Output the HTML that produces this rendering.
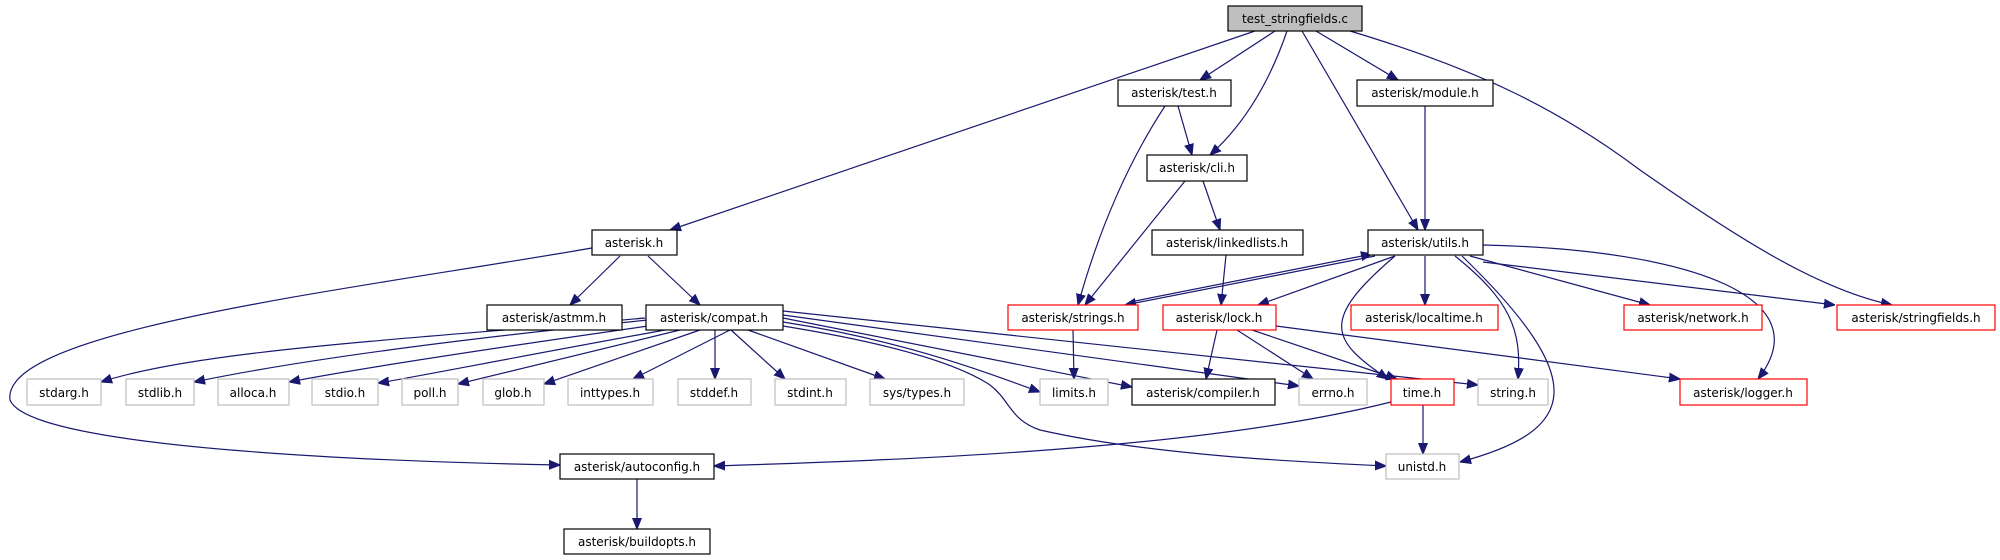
<!DOCTYPE html>
<html><head><meta charset="utf-8"><style>
html,body{margin:0;padding:0;background:#fff;}
svg{display:block;}
text{font-family:"DejaVu Sans","Liberation Sans",sans-serif;font-size:12px;fill:#000;}
.e{fill:none;stroke:#191970;stroke-width:1.2;}
</style></head><body>
<svg width="2000" height="560" viewBox="0 0 2000 560" xmlns="http://www.w3.org/2000/svg">
<defs><marker id="a" viewBox="0 0 10 10" refX="10" refY="5" markerWidth="11" markerHeight="11" markerUnits="userSpaceOnUse" orient="auto"><path d="M0,1 L10,5 L0,9 z" fill="#191970" stroke="#191970"/></marker></defs>
<g marker-end="url(#a)">
<path class="e" d="M1255,31 L670,230"/>
<path class="e" d="M1275,31 L1200,80"/>
<path class="e" d="M1287,31 Q1260,110 1210,155"/>
<path class="e" d="M1302,31 L1418,230"/>
<path class="e" d="M1316,31 L1398,80"/>
<path class="e" d="M1350,31 C1480,70 1560,110 1640,170 C1740,240 1820,290 1892,305"/>
<path class="e" d="M1178,106 L1192,155"/>
<path class="e" d="M1165,106 Q1110,190 1078,305"/>
<path class="e" d="M1425,106 L1425,230"/>
<path class="e" d="M1203,181 L1220,230"/>
<path class="e" d="M1185,181 L1085,305"/>
<path class="e" d="M1226,255 L1221,305"/>
<path class="e" d="M1375,256 L1125,305"/>
<path class="e" d="M1130,302 L1372,254"/>
<path class="e" d="M1395,256 L1258,305"/>
<path class="e" d="M1425,256 L1425,305"/>
<path class="e" d="M1470,256 L1650,305"/>
<path class="e" d="M1483,262 L1835,305"/>
<path class="e" d="M1395,256 C1320,320 1330,340 1388,379"/>
<path class="e" d="M1455,256 C1510,300 1522,330 1518,379"/>
<path class="e" d="M1462,256 C1590,380 1580,430 1460,462"/>
<path class="e" d="M1483,245 C1700,250 1820,300 1758,379"/>
<path class="e" d="M1073,330 L1074,379"/>
<path class="e" d="M1217,330 L1206,379"/>
<path class="e" d="M1237,330 L1313,379"/>
<path class="e" d="M1252,330 L1397,379"/>
<path class="e" d="M1276,326 L1680,379"/>
<path class="e" d="M1391,402 C1200,450 900,460 714,466"/>
<path class="e" d="M1423,405 L1423,454"/>
<path class="e" d="M645,318 C400,340 200,350 101,382"/>
<path class="e" d="M648,320 C450,340 300,360 194,382"/>
<path class="e" d="M655,325 C480,350 350,370 289,382"/>
<path class="e" d="M665,330 C500,360 400,380 378,383"/>
<path class="e" d="M680,330 L458,384"/>
<path class="e" d="M700,330 L544,384"/>
<path class="e" d="M730,330 L633,379"/>
<path class="e" d="M715,330 L715,379"/>
<path class="e" d="M731,330 L785,379"/>
<path class="e" d="M748,330 L885,379"/>
<path class="e" d="M783,322 C900,340 980,370 1040,392"/>
<path class="e" d="M783,318 L1132,387"/>
<path class="e" d="M783,315 L1299,386"/>
<path class="e" d="M783,311 L1478,385"/>
<path class="e" d="M783,326 C900,345 960,365 990,385 C1010,400 1010,420 1040,430 C1150,455 1300,462 1386,466"/>
<path class="e" d="M620,256 L570,305"/>
<path class="e" d="M648,256 L700,305"/>
<path class="e" d="M592,248 C350,290 0,330 10,400 C30,450 400,462 560,465"/>
<path class="e" d="M637,479 L637,529"/>
</g>
<g stroke-width="1.2">
<rect x="1228" y="6" width="134" height="25" fill="#bfbfbf" stroke="#000"/><text x="1295" y="23" text-anchor="middle">test_stringfields.c</text>
<rect x="1118" y="80" width="113" height="26" fill="#fff" stroke="#000"/><text x="1174" y="97" text-anchor="middle">asterisk/test.h</text>
<rect x="1357" y="80" width="136" height="26" fill="#fff" stroke="#000"/><text x="1425" y="97" text-anchor="middle">asterisk/module.h</text>
<rect x="1147" y="155" width="100" height="26" fill="#fff" stroke="#000"/><text x="1197" y="172" text-anchor="middle">asterisk/cli.h</text>
<rect x="592" y="230" width="85" height="25" fill="#fff" stroke="#000"/><text x="634" y="247" text-anchor="middle">asterisk.h</text>
<rect x="1152" y="230" width="151" height="25" fill="#fff" stroke="#000"/><text x="1227" y="247" text-anchor="middle">asterisk/linkedlists.h</text>
<rect x="1368" y="230" width="115" height="25" fill="#fff" stroke="#000"/><text x="1425" y="247" text-anchor="middle">asterisk/utils.h</text>
<rect x="487" y="305" width="135" height="25" fill="#fff" stroke="#000"/><text x="554" y="322" text-anchor="middle">asterisk/astmm.h</text>
<rect x="646" y="305" width="137" height="25" fill="#fff" stroke="#000"/><text x="714" y="322" text-anchor="middle">asterisk/compat.h</text>
<rect x="1008" y="305" width="130" height="25" fill="#fff" stroke="#f00"/><text x="1073" y="322" text-anchor="middle">asterisk/strings.h</text>
<rect x="1163" y="305" width="113" height="25" fill="#fff" stroke="#f00"/><text x="1219" y="322" text-anchor="middle">asterisk/lock.h</text>
<rect x="1351" y="305" width="147" height="25" fill="#fff" stroke="#f00"/><text x="1424" y="322" text-anchor="middle">asterisk/localtime.h</text>
<rect x="1624" y="305" width="138" height="25" fill="#fff" stroke="#f00"/><text x="1693" y="322" text-anchor="middle">asterisk/network.h</text>
<rect x="1837" y="305" width="158" height="25" fill="#fff" stroke="#f00"/><text x="1916" y="322" text-anchor="middle">asterisk/stringfields.h</text>
<g fill="#fff" stroke="#bfbfbf">
<rect x="27" y="379" width="74" height="26"/><rect x="126" y="379" width="68" height="26"/><rect x="218" y="379" width="71" height="26"/><rect x="312" y="379" width="66" height="26"/><rect x="402" y="379" width="56" height="26"/><rect x="483" y="379" width="61" height="26"/><rect x="568" y="379" width="85" height="26"/><rect x="678" y="379" width="73" height="26"/><rect x="775" y="379" width="71" height="26"/><rect x="870" y="379" width="94" height="26"/><rect x="1040" y="379" width="68" height="26"/><rect x="1299" y="379" width="68" height="26"/><rect x="1478" y="379" width="70" height="26"/><rect x="1386" y="454" width="73" height="25"/>
</g>
<text x="64" y="397" text-anchor="middle">stdarg.h</text><text x="160" y="397" text-anchor="middle">stdlib.h</text><text x="253" y="397" text-anchor="middle">alloca.h</text><text x="345" y="397" text-anchor="middle">stdio.h</text><text x="430" y="397" text-anchor="middle">poll.h</text><text x="513" y="397" text-anchor="middle">glob.h</text><text x="610" y="397" text-anchor="middle">inttypes.h</text><text x="714" y="397" text-anchor="middle">stddef.h</text><text x="810" y="397" text-anchor="middle">stdint.h</text><text x="917" y="397" text-anchor="middle">sys/types.h</text><text x="1074" y="397" text-anchor="middle">limits.h</text><text x="1333" y="397" text-anchor="middle">errno.h</text><text x="1513" y="397" text-anchor="middle">string.h</text><text x="1422" y="471" text-anchor="middle">unistd.h</text>
<rect x="1132" y="379" width="143" height="26" fill="#fff" stroke="#000"/><text x="1203" y="397" text-anchor="middle">asterisk/compiler.h</text>
<rect x="1391" y="379" width="63" height="26" fill="#fff" stroke="#f00"/><text x="1422" y="397" text-anchor="middle">time.h</text>
<rect x="1680" y="379" width="127" height="26" fill="#fff" stroke="#f00"/><text x="1743" y="397" text-anchor="middle">asterisk/logger.h</text>
<rect x="560" y="454" width="154" height="25" fill="#fff" stroke="#000"/><text x="637" y="471" text-anchor="middle">asterisk/autoconfig.h</text>
<rect x="564" y="529" width="146" height="25" fill="#fff" stroke="#000"/><text x="637" y="546" text-anchor="middle">asterisk/buildopts.h</text>
</g>
</svg>
</body></html>
